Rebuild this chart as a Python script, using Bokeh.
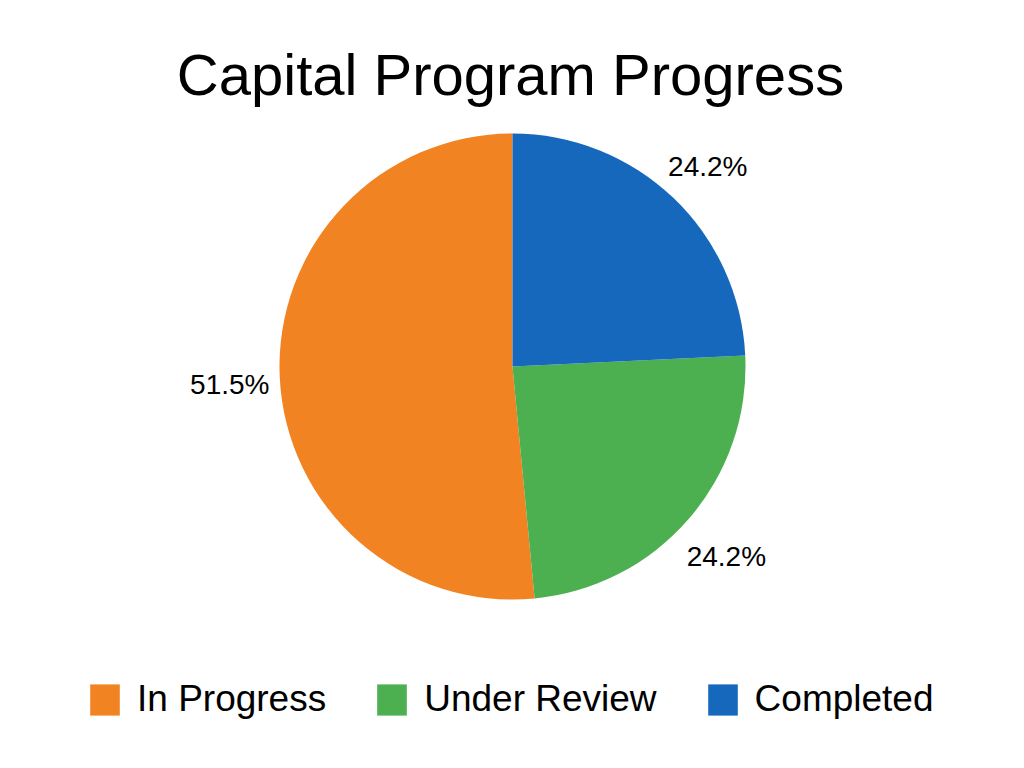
import math
from bokeh.plotting import figure
from bokeh.models import ColumnDataSource, Legend, LegendItem
from bokeh.core.properties import value
from bokeh.embed import file_html
from bokeh.resources import INLINE

title_text = "Capital Program Progress"
categories = ["In Progress", "Under Review", "Completed"]
counts = [17, 8, 8]
colors = ["#F28322", "#4CAF50", "#1668BD"]

W, H = 1008, 752
CX, CY = 512, 386
R = 233
LABEL_R = 283
FONT = "Liberation Sans"

total = sum(counts)
starts, ends, pct, lx, ly = [], [], [], [], []
a = math.pi / 2
for c in counts:
    span = 2 * math.pi * c / total
    starts.append(a)
    ends.append(a + span)
    mid = a + span / 2
    lx.append(CX + LABEL_R * math.cos(mid))
    ly.append(CY + LABEL_R * math.sin(mid))
    pct.append(f"{100 * c / total:.1f}%")
    a += span

src = ColumnDataSource(dict(cat=categories, start=starts, end=ends, color=colors,
                            pct=pct, lx=lx, ly=ly))

p = figure(width=W, height=H, x_range=(0, W), y_range=(0, H),
           output_backend="svg", toolbar_location=None, min_border=0)
p.axis.visible = False
p.grid.visible = False
p.outline_line_color = None
p.background_fill_color = "white"
p.border_fill_color = "white"

wedges = p.wedge(x=CX, y=CY, radius=R, start_angle="start", end_angle="end",
                 fill_color="color", line_color=None, source=src)

p.text(x="lx", y="ly", text="pct", source=src, text_align="center",
       text_baseline="middle", y_offset=5, text_font=value(FONT),
       text_font_size="28px", text_color="#000000")

p.text(x=[510], y=[H - 74], text=[title_text], text_align="center",
       text_baseline="alphabetic", text_font=value(FONT), text_font_size="58px",
       text_color="#000000")

items = [LegendItem(label=categories[i], renderers=[wedges], index=i) for i in range(3)]
legend = Legend(items=items, orientation="horizontal", location=(86, 32),
                glyph_width=37, glyph_height=39, label_standoff=14, spacing=47,
                padding=0, margin=0, border_line_color=None,
                background_fill_alpha=0, label_text_font=FONT,
                label_text_font_size="37px", label_text_color="#000000")
p.add_layout(legend, "center")

open("out.html", "w").write(file_html(p, INLINE))
